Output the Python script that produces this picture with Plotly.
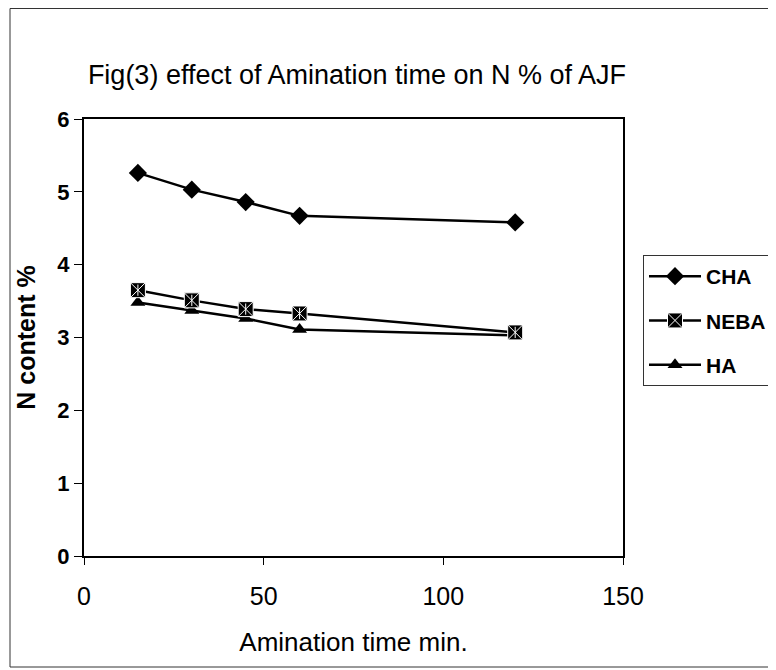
import plotly.graph_objects as go

# Data
time_min = [15, 30, 45, 60, 120]
cha = [5.26, 5.03, 4.86, 4.67, 4.58]
neba = [3.65, 3.51, 3.39, 3.33, 3.07]
ha = [3.48, 3.37, 3.26, 3.11, 3.03]

x_ticks = [0, 50, 100, 150]
y_ticks = [0, 1, 2, 3, 4, 5, 6]

FONT = "Liberation Sans, Arial, sans-serif"
BLACK = "#000000"

fig = go.Figure()

fig.add_trace(go.Scatter(
    x=time_min, y=cha, name="CHA", mode="lines+markers",
    line=dict(color=BLACK, width=2.5),
    marker=dict(symbol="diamond", size=14, color=BLACK),
    legendgroup="a", legendrank=1,
))
fig.add_trace(go.Scatter(
    x=time_min, y=ha, name="HA", mode="lines+markers",
    line=dict(color=BLACK, width=2.5),
    marker=dict(symbol="triangle-up", size=13, color=BLACK),
    legendgroup="c", legendrank=3,
))
fig.add_trace(go.Scatter(
    x=time_min, y=neba, name="NEBA", mode="lines+markers",
    line=dict(color=BLACK, width=2.5),
    marker=dict(symbol="square-x", size=15, color=BLACK,
                line=dict(color="white", width=1)),
    legendgroup="b", legendrank=2,
))
fig.add_trace(go.Scatter(
    x=time_min, y=neba, name="NEBA", mode="markers",
    marker=dict(symbol="line-ns-open", size=8, color="white",
                line=dict(color="white", width=1)),
    legendgroup="b", showlegend=False, hoverinfo="skip",
))

# page body has an 8px margin; figure coordinates = screen coordinates - 8
OFF = 8
W, H = 776, 670
PX0, PX1 = 84 - OFF, 623 - OFF   # plot area left/right (figure px)
PY0, PY1 = 119 - OFF, 556 - OFF  # plot area top/bottom (figure px)
L, T = PX0, PY0
R, B = W - PX1, H - PY1
pw, ph = PX1 - PX0, PY1 - PY0

def px_x(p):
    return (p - OFF - L) / pw

def px_y(p):
    return (PY1 - (p - OFF)) / ph

fig.update_layout(
    width=W, height=H,
    margin=dict(l=L, r=R, t=T, b=B, autoexpand=False),
    paper_bgcolor="white", plot_bgcolor="white",
    font=dict(family=FONT, color=BLACK),
    title=dict(
        text="Fig(3) effect of Amination time on N % of AJF",
        font=dict(family=FONT, size=27, color=BLACK),
        x=(357 - OFF) / W, xanchor="center", xref="container",
        y=1 - (75 - OFF) / H, yanchor="middle", yref="container",
    ),
    showlegend=True,
    legend=dict(
        x=px_x(643), y=px_y(255), xanchor="left", yanchor="top",
        bordercolor="#333333", borderwidth=1, bgcolor="white",
        font=dict(family=FONT, size=21, color=BLACK, weight="bold"),
        traceorder="grouped", tracegroupgap=14,
        itemwidth=52,
    ),
    shapes=[
        dict(type="rect", xref="paper", yref="paper",
             x0=px_x(10), x1=px_x(800), y0=px_y(667), y1=px_y(8.5),
             line=dict(color="#333333", width=1), layer="below"),
    ],
)

fig.update_xaxes(
    range=[0, 150], tickvals=x_ticks, ticktext=[str(v) for v in x_ticks],
    automargin=False,
    showgrid=False, zeroline=False,
    showline=True, linecolor=BLACK, linewidth=2, mirror=True,
    ticks="outside", ticklen=7, tickwidth=1, tickcolor=BLACK,
    ticklabelstandoff=10,
    tickfont=dict(family=FONT, size=25, color=BLACK),
    title=dict(text="Amination time min.",
               font=dict(family=FONT, size=26, color=BLACK), standoff=24),
)
fig.update_yaxes(
    range=[0, 6], tickvals=y_ticks, ticktext=[str(v) for v in y_ticks],
    automargin=False,
    showgrid=False, zeroline=False,
    showline=True, linecolor=BLACK, linewidth=2, mirror=True,
    ticks="outside", ticklen=8, tickwidth=1, tickcolor=BLACK,
    tickfont=dict(family=FONT, size=22, color=BLACK, weight="bold"),
    title=dict(text="N content %",
               font=dict(family=FONT, size=25, color=BLACK, weight="bold"),
               standoff=15),
)

fig.write_html("out.html")
